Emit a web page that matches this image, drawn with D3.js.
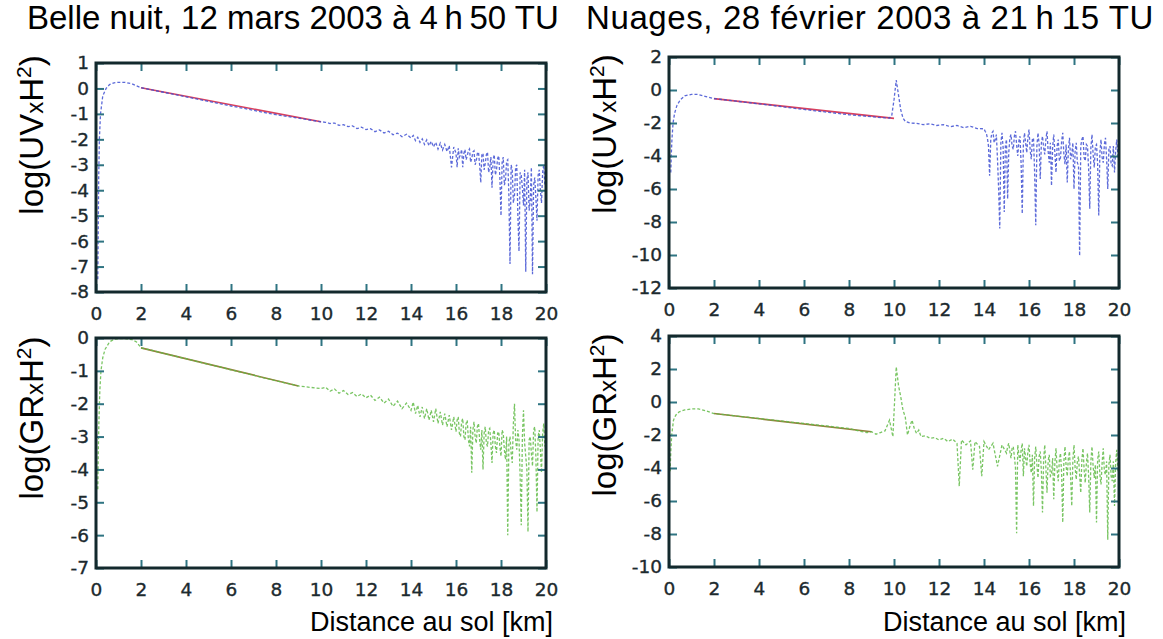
<!DOCTYPE html>
<html><head><meta charset="utf-8">
<script src="https://cdn.jsdelivr.net/npm/d3@7"></script>
<style>
html,body{margin:0;padding:0;background:#fff;}
svg{display:block;}
</style></head>
<body>
<svg id="chart" width="1163" height="639"></svg>
<script>
// ---------- DATA ----------
const titles = ["Belle nuit, 12 mars 2003 à 4\u2009h\u200950 TU", "Nuages, 28 février 2003 à 21\u2009h\u200915 TU"];
const xLabel = "Distance au sol [km]";
const xTicks = [0, 2, 4, 6, 8, 10, 12, 14, 16, 18, 20];
const nightUvTicks = [-8, -7, -6, -5, -4, -3, -2, -1, 0, 1];
const nightGrTicks = [-7, -6, -5, -4, -3, -2, -1, 0];
const cloudUvTicks = [-12, -10, -8, -6, -4, -2, 0, 2];
const cloudGrTicks = [-10, -8, -6, -4, -2, 0, 2, 4];

// shared fine sampling of the noisy tails (km)
const tail16Km = [16,16.05,16.1,16.15,16.2,16.25,16.3,16.35,16.4,16.45,16.5,16.55,16.6,16.65,16.7,16.75,16.8,16.85,16.9,16.95,
 17,17.05,17.1,17.15,17.2,17.25,17.3,17.35,17.4,17.45,17.5,17.55,17.6,17.65,17.7,17.75,17.8,17.85,17.9,17.95,
 18,18.05,18.1,18.15,18.2,18.25,18.3,18.35,18.4,18.45,18.5,18.55,18.6,18.65,18.7,18.75,18.8,18.85,18.9,18.95,
 19,19.05,19.1,19.15,19.2,19.25,19.3,19.35,19.4,19.45,19.5,19.55,19.6,19.65,19.7,19.75,19.8,19.85,19.9,19.95,20];
const tail14Km = [14,14.05,14.1,14.15,14.2,14.25,14.3,14.35,14.4,14.45,14.5,14.55,14.6,14.65,14.7,14.75,14.8,14.85,14.9,14.95,
 15,15.05,15.1,15.15,15.2,15.25,15.3,15.35,15.4,15.45,15.5,15.55,15.6,15.65,15.7,15.75,15.8,15.85,15.9,15.95];
const tail15Km = [15,15.05,15.1,15.15,15.2,15.25,15.3,15.35,15.4,15.45,15.5,15.55,15.6,15.65,15.7,15.75,15.8,15.85,15.9,15.95];

// Belle nuit – UV
const nightUvHeadKm = [0.08,0.1,0.12,0.15,0.2,0.3,0.45,0.6,0.8,1.0,1.3,1.6,1.8,2.0,
 2.5,3,3.5,4,4.5,5,5.5,6,6.5,7,7.5,8,8.5,9,9.5,10,
 10.2,10.4,10.6,10.8,11.0,11.2,11.4,11.6,11.8,12.0,12.2,12.4,12.6,12.8,13.0,13.2,13.4,13.6,13.8,14.0,
 14.1,14.2,14.3,14.4,14.5,14.6,14.7,14.8,14.9,15.0,15.1,15.2,15.3,15.4,15.5,15.6,15.7,15.8,15.9];
const nightUvLog = [-7.5,-5.5,-3.5,-2.0,-1.0,-0.3,0.0,0.15,0.22,0.24,0.24,0.18,0.1,0.03,
 -0.06,-0.15,-0.24,-0.33,-0.42,-0.51,-0.60,-0.69,-0.77,-0.86,-0.95,-1.03,-1.10,-1.17,-1.24,-1.31,
 -1.33,-1.38,-1.36,-1.45,-1.42,-1.50,-1.47,-1.58,-1.52,-1.62,-1.58,-1.70,-1.63,-1.75,-1.68,-1.82,-1.76,-1.90,-1.80,-1.95,
 -1.85,-2.05,-1.92,-2.12,-1.98,-2.20,-2.02,-2.25,-2.08,-2.30,-2.12,-2.38,-2.15,-2.42,-2.20,-2.48,-2.25,-3.10,-2.30,
 -2.55,-3.10,-2.35,-2.70,-2.60,-2.40,-3.10,-2.55,-2.40,-2.80,-2.65,-2.45,-2.38,-2.90,-2.75,-2.50,-2.45,-3.00,-2.85,-2.55,
 -2.50,-3.00,-3.70,-2.60,-2.55,-3.20,-2.95,-2.60,-2.50,-3.30,-3.10,-2.70,-3.90,-2.80,-2.60,-3.40,-3.20,-2.75,-2.65,-3.50,
 -5.00,-2.90,-2.70,-3.80,-3.60,-2.85,-2.80,-4.20,-6.90,-3.00,-3.20,-4.50,-4.20,-3.10,-3.00,-5.00,-6.40,-3.30,-3.40,-3.90,
 -4.60,-3.20,-7.20,-3.60,-3.30,-4.80,-4.40,-3.10,-7.30,-3.80,-3.50,-4.30,-5.20,-3.40,-3.20,-4.00,-4.50,-3.30,-3.00,-3.80,
 -3.60];
const nightUvKm = nightUvHeadKm.concat(tail16Km);
const nightUvFitKm = [2, 10];
const nightUvFitLog = [0.03, -1.31];

// Belle nuit – GR
const nightGrHeadKm = [0.08,0.1,0.13,0.17,0.22,0.3,0.4,0.6,0.8,1.0,1.3,1.6,1.8,2.0,
 2.5,3,3.5,4,4.5,5,5.5,6,6.5,7,7.5,8,8.5,9,9.5,10,
 10.2,10.4,10.6,10.8,11.0,11.2,11.4,11.6,11.8,12.0,12.2,12.4,12.6,12.8,13.0,13.2,13.4,13.6,13.8,14.0,
 14.1,14.2,14.3,14.4,14.5,14.6,14.7,14.8,14.9,15.0,15.1,15.2,15.3,15.4,15.5,15.6,15.7,15.8,15.9];
const nightGrLog = [-4.6,-3.5,-2.5,-1.6,-1.0,-0.6,-0.35,-0.12,-0.04,-0.02,-0.02,-0.05,-0.12,-0.30,
 -0.38,-0.47,-0.55,-0.63,-0.72,-0.80,-0.88,-0.97,-1.05,-1.13,-1.22,-1.30,-1.38,-1.46,-1.50,-1.54,
 -1.50,-1.62,-1.55,-1.68,-1.60,-1.72,-1.66,-1.78,-1.70,-1.82,-1.74,-1.90,-1.80,-1.98,-1.86,-2.08,-1.92,-2.15,-1.98,-2.20,
 -1.95,-2.30,-2.05,-2.40,-2.10,-2.45,-2.15,-2.50,-2.20,-2.55,-2.15,-2.60,-2.25,-2.65,-2.30,-2.70,-2.35,-2.80,-2.40,
 -2.85,-2.50,-2.40,-2.90,-3.00,-2.55,-2.45,-3.00,-3.10,-2.60,-2.50,-3.10,-3.30,-2.70,-4.10,-2.80,-2.55,-3.00,-3.20,-2.70,
 -2.60,-3.10,-3.40,-2.80,-4.00,-2.90,-2.70,-3.20,-3.30,-2.80,-2.75,-3.20,-3.80,-2.90,-2.80,-3.30,-3.50,-2.90,-2.85,-3.30,
 -3.60,-2.80,-2.90,-3.40,-3.70,-3.00,-6.00,-3.20,-3.00,-3.50,-3.80,-2.60,-2.00,-3.10,-3.40,-2.80,-3.10,-4.20,-5.70,-3.00,
 -2.20,-3.20,-3.60,-4.00,-5.90,-3.10,-3.00,-3.50,-3.90,-2.80,-2.70,-3.60,-5.30,-3.00,-2.80,-3.40,-4.10,-2.90,-2.60,-3.30,
 -3.20];
const nightGrKm = nightGrHeadKm.concat(tail16Km);
const nightGrFitKm = [2, 9];
const nightGrFitLog = [-0.30, -1.46];

// Nuages – UV
const cloudUvHeadKm = [0.08,0.1,0.13,0.18,0.25,0.35,0.5,0.7,1.0,1.3,1.6,2.0,
 2.5,3,3.5,4,4.5,5,5.5,6,6.5,7,7.5,8,8.5,9,9.5,
 9.8,9.9,10.0,10.1,10.2,10.3,10.4,10.5,10.7,
 11.0,11.3,11.6,11.9,12.2,12.5,12.8,13.1,13.4,13.7];
const cloudUvLog = [-5.0,-4.0,-3.0,-2.0,-1.4,-0.95,-0.6,-0.35,-0.27,-0.27,-0.38,-0.52,
 -0.60,-0.68,-0.76,-0.84,-0.92,-1.01,-1.10,-1.18,-1.26,-1.34,-1.42,-1.50,-1.56,-1.62,-1.68,
 -1.70,-1.55,-0.60,0.60,-0.30,-1.20,-1.70,-1.90,-2.00,
 -2.02,-2.10,-2.05,-2.15,-2.10,-2.22,-2.15,-2.28,-2.20,-2.34,
 -2.35,-2.50,-2.60,-2.90,-3.40,-5.20,-3.00,-2.60,-2.50,-3.20,-3.00,-2.70,-4.20,-6.00,-8.40,-3.20,-2.60,-3.50,-7.40,-3.40,
 -3.00,-6.60,-3.80,-2.90,-2.70,-3.40,-3.60,-2.80,-2.50,-3.30,-4.00,-3.10,-2.80,-4.50,-7.50,-3.30,-2.60,-3.20,-3.80,-2.90,
 -2.40,-3.60,-4.20,-3.00,-2.90,-5.00,-8.20,-3.40,-2.60,-3.30,-5.40,-3.20,-2.80,-3.50,-3.90,-3.00,-2.50,-3.70,-4.40,-3.20,
 -5.80,-3.50,-2.70,-3.80,-5.00,-3.40,-3.00,-4.30,-4.10,-3.10,-2.60,-3.90,-4.50,-3.30,-5.60,-3.60,-2.90,-4.20,-3.90,-3.20,
 -6.00,-3.70,-3.20,-4.40,-4.60,-10.05,-3.40,-3.00,-2.80,-4.10,-4.30,-3.30,-3.40,-4.80,-7.20,-3.50,-2.70,-3.90,-4.70,-3.40,
 -3.30,-4.50,-7.60,-3.80,-3.00,-4.10,-4.40,-3.30,-2.90,-4.20,-6.00,-3.60,-3.40,-4.50,-4.60,-3.40,-5.00,-3.70,-3.00,-4.00,
 -4.20];
const cloudUvKm = cloudUvHeadKm.concat(tail14Km, tail16Km);
const cloudUvFitKm = [2, 10];
const cloudUvFitLog = [-0.52, -1.72];

// Nuages – GR
const cloudGrHeadKm = [0.05,0.08,0.12,0.2,0.3,0.45,0.7,1.0,1.3,1.6,2.0,
 2.5,3,3.5,4,4.5,5,5.5,6,6.5,7,7.5,8,8.5,
 8.8,9.0,9.2,9.4,9.6,9.8,9.95,10.1,10.2,10.3,10.4,10.5,10.6,10.7,10.8,10.9,11.0,11.1,
 11.2,11.4,11.6,11.8,12.0,12.2,12.4,12.6,12.8,12.9,13.0,13.2,13.4,13.5,13.6,13.8,13.9,14.0,14.2,14.4,14.6,14.8];
const cloudGrLog = [-4.2,-3.0,-2.0,-1.1,-0.8,-0.6,-0.48,-0.42,-0.42,-0.52,-0.70,
 -0.77,-0.85,-0.92,-1.00,-1.08,-1.15,-1.23,-1.30,-1.38,-1.45,-1.53,-1.60,-1.78,
 -1.85,-1.80,-1.95,-1.85,-1.75,-1.10,-2.10,2.13,1.00,0.31,-0.50,-0.90,-2.00,-1.50,-1.10,-1.60,-1.90,-1.70,
 -2.10,-2.05,-2.20,-2.15,-2.30,-2.20,-2.40,-2.25,-2.50,-5.10,-2.30,-2.60,-2.35,-4.10,-2.40,-2.70,-4.50,-2.40,-2.90,-2.50,-3.90,-2.60,
 -3.10,-2.70,-2.50,-3.00,-3.40,-2.80,-2.70,-3.30,-4.00,-7.95,-2.60,-3.20,-3.60,-2.90,-2.50,-4.50,-2.80,-3.40,-3.90,-3.00,
 -2.60,-3.70,-4.30,-3.20,-6.30,-3.40,-2.70,-3.80,-4.60,-3.30,-3.00,-4.20,-6.70,-3.50,-2.60,-4.00,-5.50,-3.60,-3.20,-4.50,
 -4.40,-3.40,-5.90,-3.70,-2.80,-4.10,-4.80,-3.50,-3.10,-4.30,-7.30,-3.60,-2.70,-3.90,-4.50,-3.40,-3.00,-4.60,-6.30,-3.50,
 -2.60,-4.00,-4.70,-3.60,-3.30,-4.40,-5.50,-3.50,-2.80,-4.10,-4.90,-3.70,-3.10,-4.50,-6.70,-3.60,-2.70,-3.90,-4.60,-3.80,
 -7.30,-3.50,-3.00,-4.40,-5.00,-3.70,-2.80,-4.20,-4.40,-3.60,-8.35,-3.80,-3.20,-4.50,-4.80,-3.60,-6.30,-3.70,-2.90,-4.10,
 -4.00];
const cloudGrKm = cloudGrHeadKm.concat(tail15Km, tail16Km);
const cloudGrFitKm = [2, 9];
const cloudGrFitLog = [-0.70, -1.80];

// ---------- DRAW ----------
const svg = d3.select("#chart");
const FRAME = "#13292d", TICK = "#2f7482", LABEL = "#1c2a2e";
const BLUE = "#3f50d2", RED = "#d8405e", GREEN = "#62bb48", OLIVE = "#93803c";

const panels = [
  {km: nightUvKm, val: nightUvLog, fk: nightUvFitKm, fv: nightUvFitLog, ticks: nightUvTicks,
   l: 96, r: 546, t: 63, b: 292, col: BLUE, fcol: RED, name: "UV", lx: 43, ly: 135, xlab: false},
  {km: cloudUvKm, val: cloudUvLog, fk: cloudUvFitKm, fv: cloudUvFitLog, ticks: cloudUvTicks,
   l: 669, r: 1119, t: 57, b: 288, col: BLUE, fcol: RED, name: "UV", lx: 616, ly: 134, xlab: false},
  {km: nightGrKm, val: nightGrLog, fk: nightGrFitKm, fv: nightGrFitLog, ticks: nightGrTicks,
   l: 96, r: 546, t: 338, b: 568, col: GREEN, fcol: OLIVE, name: "GR", lx: 43, ly: 418, xlab: true},
  {km: cloudGrKm, val: cloudGrLog, fk: cloudGrFitKm, fv: cloudGrFitLog, ticks: cloudGrTicks,
   l: 669, r: 1119, t: 336, b: 567, col: GREEN, fcol: OLIVE, name: "GR", lx: 616, ly: 415, xlab: true}
];

panels.forEach((p, i) => {
  const x = d3.scaleLinear().domain([0, 20]).range([p.l, p.r]);
  const y = d3.scaleLinear().domain(d3.extent(p.ticks)).range([p.b, p.t]);
  const g = svg.append("g");
  const clipId = "clip" + i;
  svg.append("clipPath").attr("id", clipId).append("rect")
    .attr("x", p.l).attr("y", p.t).attr("width", p.r - p.l).attr("height", p.b - p.t);

  const line = d3.line().x(d => x(d[0])).y(d => y(d[1]));
  const plot = g.append("g").attr("clip-path", `url(#${clipId})`);
  plot.append("path").datum(d3.zip(p.fk, p.fv)).attr("d", line)
    .attr("fill", "none").attr("stroke", p.fcol).attr("stroke-width", 1.6);
  plot.append("path").datum(d3.zip(p.km, p.val)).attr("d", line)
    .attr("fill", "none").attr("stroke", p.col).attr("stroke-width", 1.3)
    .attr("stroke-dasharray", "3,2").attr("stroke-opacity", 0.85);

  // axes with inward ticks
  const ax = [
    g.append("g").attr("transform", `translate(0,${p.b})`)
      .call(d3.axisBottom(x).tickValues(xTicks).tickSize(-8).tickPadding(15).tickFormat(d3.format("d"))),
    g.append("g").attr("transform", `translate(0,${p.t})`)
      .call(d3.axisTop(x).tickValues(xTicks).tickSize(-8).tickFormat("")),
    g.append("g").attr("transform", `translate(${p.l},0)`)
      .call(d3.axisLeft(y).tickValues(p.ticks).tickSize(-8).tickPadding(7).tickFormat(d3.format("d"))),
    g.append("g").attr("transform", `translate(${p.r},0)`)
      .call(d3.axisRight(y).tickValues(p.ticks).tickSize(-8).tickFormat(""))
  ];
  ax.forEach(a => {
    a.select(".domain").remove();
    a.selectAll(".tick line").attr("stroke", TICK).attr("stroke-width", 2);
    a.selectAll(".tick text").attr("fill", LABEL).attr("stroke", LABEL).attr("stroke-width", 0.35)
      .style("font-family", "'DejaVu Sans', sans-serif").style("font-size", "18.5px");
  });
  ax[2].selectAll(".tick text").text(d => d < 0 ? "-" + Math.abs(d) : d);

  g.append("rect").attr("x", p.l).attr("y", p.t).attr("width", p.r - p.l).attr("height", p.b - p.t)
    .attr("fill", "none").attr("stroke", FRAME).attr("stroke-width", 3);

  // y label
  const t = g.append("text")
    .attr("transform", `translate(${p.lx},${p.ly}) rotate(-90)`)
    .attr("text-anchor", "middle")
    .style("font-family", "'Liberation Sans', Arial, sans-serif").style("font-size", "33px")
    .attr("fill", "#000");
  t.append("tspan").text("log(" + p.name);
  t.append("tspan").style("font-size", "24px").text("x");
  t.append("tspan").text("H");
  t.append("tspan").style("font-size", "21px").attr("dy", "-12").text("2");
  t.append("tspan").attr("dy", "12").text(")");

  if (p.xlab) {
    g.append("text").attr("x", p.r + 7).attr("y", 631).attr("text-anchor", "end")
      .style("font-family", "'Liberation Sans', Arial, sans-serif").style("font-size", "27px")
      .attr("fill", "#000").text(xLabel);
  }
});

svg.append("text").attr("x", 27).attr("y", 29)
  .style("font-family", "'Liberation Sans', Arial, sans-serif").style("font-size", "33px")
  .attr("fill", "#000").text(titles[0]);
svg.append("text").attr("x", 586).attr("y", 29)
  .style("font-family", "'Liberation Sans', Arial, sans-serif").style("font-size", "33px")
  .style("letter-spacing", "0.6px")
  .attr("fill", "#000").text(titles[1]);
</script>
</body></html>
